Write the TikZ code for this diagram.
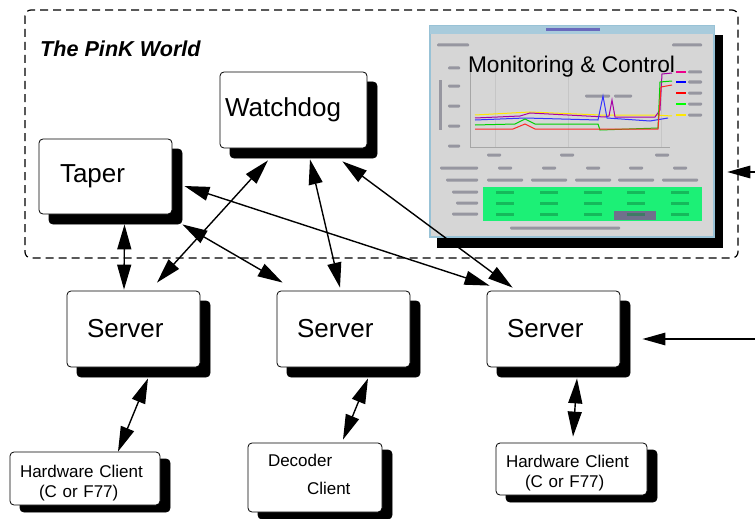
\documentclass[tikz,border=0pt]{standalone}
\usepackage{fontspec}
\setmainfont{Liberation Sans}
\usetikzlibrary{arrows.meta,shadows,calc}

\definecolor{winblue}{RGB}{152,194,214}
\definecolor{wingrey}{RGB}{214,214,214}
\definecolor{okgreen}{RGB}{28,240,118}
\definecolor{blurgrey}{RGB}{150,150,160}
\definecolor{badcell}{RGB}{112,112,140}

\tikzset{
  box/.style={draw, fill=white, rounded corners=4pt, line width=0.8pt, align=left, inner ysep=0pt},
  bigbox/.style={box, font=\fontsize{26}{30}\selectfont, minimum height=76pt,
    copy shadow={shadow xshift=10pt, shadow yshift=-10pt, fill=black, draw=black}},
  smallbox/.style={box, font=\fontsize{17}{20}\selectfont,
    copy shadow={shadow xshift=10pt, shadow yshift=-7pt, fill=black, draw=black}},
  link/.style={line width=1.4pt, >={Triangle[length=25pt,width=14pt]}, <->},
  feed/.style={line width=1.4pt, >={Triangle[length=23pt,width=12.5pt]}, ->},
  blur/.style={fill=blurgrey, rounded corners=1pt}
}

\begin{document}
\begin{tikzpicture}[x=1pt,y=-1pt]
  \useasboundingbox (0,0) rectangle (755,519);

  % the PinK world
  \draw[dash pattern=on 8pt off 5pt, line width=1.2pt, rounded corners=6pt] (25,10) rectangle (738,258);
  \node[font=\fontsize{21.6}{24}\selectfont\bfseries\itshape, anchor=base west, inner sep=0pt] (world) at (40,57) {The PinK World};

  % monitoring screen
  \node[draw=winblue, fill=wingrey, line width=2.5pt, minimum width=284pt, minimum height=211pt,
        copy shadow={shadow xshift=8pt, shadow yshift=-10pt, fill=black, draw=black}] (M) at (572,131.5) {};
  \fill[winblue!85] (430,26) rectangle (714,34);
  \fill[blurgrey!70!blue] (546,28.5) rectangle (600,31.5);
  \draw[gray!70, line width=0.6pt] (470,58) -- (470,147) -- (670,147);
  \foreach \x in {495,568,661}
    \draw[gray!45, line width=0.4pt] (\x,60) -- (\x,147);
  \fill[blurgrey] (439,80) rectangle (442,130);
  \foreach \x/\y/\w in {437/45/32, 672/45/30, 448/68/12, 448/86/12, 448/106/12, 448/126/12, 448/146/12,
      585/96/25, 614/96/18, 688/72/14, 688/82/14, 688/93/14, 688/104/14, 688/115/14,
      487/155/14, 560/155/14, 655/155/14,
      440/168/38, 498/168/14, 542/168/14, 586/168/14, 629/168/14, 673/168/14,
      446/180/32, 487/180/36, 531/180/36, 575/180/36, 618/180/36, 662/180/36,
      452/192/26, 456/203/22, 452/214/26, 510/228/110}
    \fill[blur] (\x,\y-1.5) rectangle ++(\w,3);
  % plot traces
  \draw[yellow!90!orange, line width=1pt] (475,115) -- (530,112) -- (600,115) -- (655,115) -- (672,116);
  \draw[violet!70!magenta, line width=1pt] (475,118) -- (520,116) -- (530,113) -- (605,117) -- (609,116) -- (612,100) -- (615,117) -- (655,117) -- (660,110) -- (662,74) -- (672,73);
  \draw[blue!80, line width=1pt] (475,120) -- (525,118) -- (598,120) -- (603,96) -- (607,118) -- (650,121) -- (668,118);
  \draw[green!70!black!60!green, line width=1pt] (475,125) -- (515,124) -- (525,119) -- (535,124) -- (598,124) -- (600,130) -- (658,128) -- (660,82) -- (672,81);
  \draw[red!85, line width=1pt] (475,129) -- (513,129) -- (525,124) -- (535,129) -- (658,129) -- (661,87) -- (672,85);
  \foreach \c/\y in {magenta/72, blue/82, red/93, green/104, yellow!90!orange/115}
    \draw[\c, line width=1.2pt] (676,\y) -- (686,\y);
  % status table
  \fill[okgreen] (483,187) rectangle (702,221);
  \fill[badcell] (614,210.5) rectangle (656,220);
  \foreach \c in {505,549,593,636,680}
    \foreach \y in {192,203,214}
      \fill[okgreen!55!black, opacity=0.5] (\c-9,\y-1.5) rectangle ++(18,3);
  \node[anchor=base, font=\fontsize{22.7}{26}\selectfont] (MC) at (571.5,73) {Monitoring \& Control};

  % boxes
  \node[bigbox, text width=137pt, inner xsep=5pt] (W) at (293.5,110) {Watchdog};
  \node[bigbox, text width=91pt, inner xsep=21pt, minimum height=75pt] (T) at (105.5,176.5) {Taper};
  \node[bigbox, text width=93pt, inner xsep=20pt] (S1) at (133.5,329) {Server};
  \node[bigbox, text width=93pt, inner xsep=20pt] (S2) at (343.5,329) {Server};
  \node[bigbox, text width=93pt, inner xsep=20pt] (S3) at (553.5,329) {Server};
  \node[smallbox, text width=130pt, inner xsep=10pt, minimum height=53pt] (H1) at (85,478.5) {\rule{0pt}{21pt}Hardware Client\\\hspace*{19pt}(C or F77)};
  \node[smallbox, text width=94pt, inner xsep=20pt, minimum height=69pt] (D) at (315,477.5) {Decoder\\[8pt]\hspace*{39pt}Client\rule[-6pt]{0pt}{6pt}};
  \node[smallbox, text width=131pt, inner xsep=10pt, minimum height=52pt] (H2) at (571.5,469) {\rule{0pt}{21pt}Hardware Client\\\hspace*{19pt}(C or F77)};

  % links
  \draw[link] ($(T.south)+(19,10)$) -- ($(S1.north)+(-9.5,-1)$);
  \draw[link] ($(W.south)+(-25.5,12)$) -- ($(S1.north)+(23.5,-8)$);
  \draw[link] ($(T.south east)+(10,10)$) -- ($(S2.north west)+(6,-8)$);
  \draw[link] ($(W.south)+(16.5,11)$) -- ($(S2.north)+(-3.5,-3)$);
  \draw[link] ($(W.south east)+(-25,13)$) -- ($(S3.north west)+(26,-3)$);
  \draw[link] ($(T.east)+(12,9.5)$) -- ($(S3.north west)+(3,-5)$);
  \draw[link] ($(S1.south)+(14.5,11)$) -- ($(H1.north)+(33,0)$);
  \draw[link] ($(S2.south)+(24.5,11)$) -- ($(D.north)+(28,-3)$);
  \draw[link] ($(S3.south)+(23.5,11)$) -- ($(H2.north)+(1.5,-6)$);
  \coordinate (inM) at (755,172);
  \coordinate (inS) at (755,339);
  \draw[feed] (inM) -- ($(M.east)+(12,40.5)$);
  \draw[feed] (inS) -- ($(S3.east)+(22,10)$);
\end{tikzpicture}
\end{document}
